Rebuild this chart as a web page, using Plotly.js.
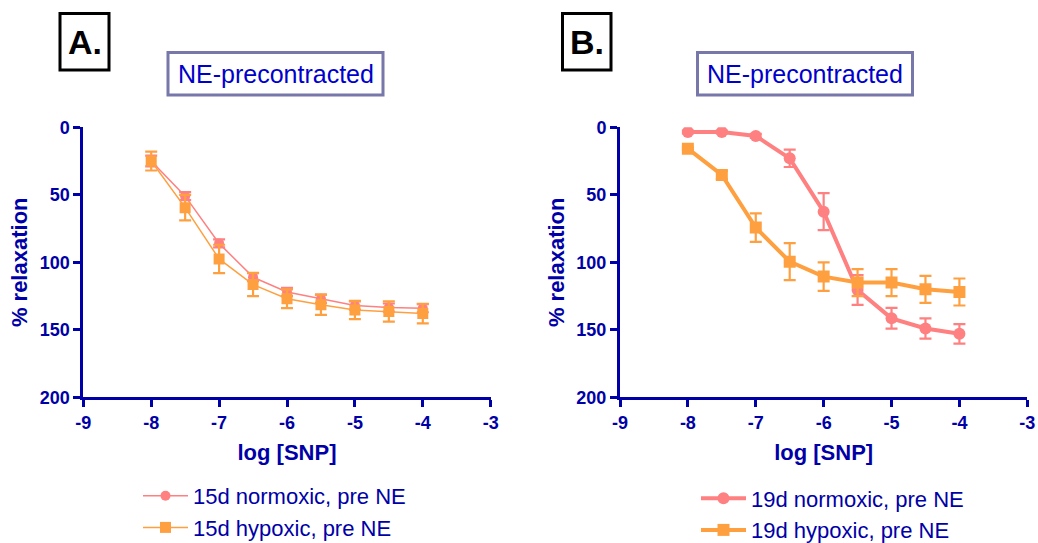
<!DOCTYPE html>
<html>
<head>
<meta charset="utf-8">
<script src="https://cdn.plot.ly/plotly-3.0.1.min.js"></script>
<style>html,body{margin:0;padding:0;background:#fff;overflow:hidden;}#chart{width:1038px;height:543px;overflow:hidden;}</style>
</head>
<body>
<div id="chart"></div>
<script>
// ---- data ----
const logSNP = [-8, -7.5, -7, -6.5, -6, -5.5, -5, -4.5, -4];

const normoxic15 = [25, 51, 86, 111, 122, 127, 132, 133.5, 134];
const normoxic15Err = [4, 3, 3, 3, 3, 3, 3, 3, 3];
const hypoxic15 = [25, 59.5, 97.5, 116.5, 127, 131.5, 135.3, 136.5, 138];
const hypoxic15Err = [7, 9.5, 10.5, 8.6, 7, 7.5, 6.8, 7.5, 7.3];

const normoxic19 = [3.5, 3.5, 6.4, 23, 62.5, 120.5, 141.5, 149, 153];
const normoxic19Err = [1, 1, 1.5, 6.4, 13.7, 11, 7.7, 7.5, 7.2];
const hypoxic19 = [15.8, 35.3, 74.3, 99.5, 110.6, 115, 115, 120, 122];
const hypoxic19Err = [1, 3, 10.5, 13.7, 10.6, 10, 10, 10, 10];

const seriesNames = ['15d normoxic, pre NE', '15d hypoxic, pre NE', '19d normoxic, pre NE', '19d hypoxic, pre NE'];
const xTickVals = [-9, -8, -7, -6, -5, -4, -3];
const xTickText = ['-9', '-8', '-7', '-6', '-5', '-4', '-3'];
const yTickVals = [0, 50, 100, 150, 200];
const panelLabels = ['A.', 'B.'];
const panelTitles = ['NE-precontracted', 'NE-precontracted'];
const xTitle = 'log [SNP]';
const yTitle = '% relaxation';

// ---- styling ----
const W = 1038, H = 543;
const px = x => x / W;
const py = y => 1 - y / H;
const PINK = '#FF8080', ORANGE = '#FFA040', AXIS = '#0000A8', TITLEBLUE = '#0000CC';
const FONT = 'Liberation Sans, Arial, sans-serif';

function trace(y, err, name, color, symbol, xa, ya, lw, ms, legend) {
  return {
    x: logSNP, y: y, name: name, type: 'scatter', mode: 'lines+markers',
    xaxis: xa, yaxis: ya, legend: legend,
    line: {color: color, width: lw},
    marker: {color: color, symbol: symbol, size: ms},
    error_y: {type: 'data', array: err, visible: true, color: color, thickness: 2.2, width: 6}
  };
}

const data = [
  trace(normoxic15, normoxic15Err, seriesNames[0], PINK, 'circle', 'x', 'y', 1.5, 10, 'legend'),
  trace(hypoxic15, hypoxic15Err, seriesNames[1], ORANGE, 'square', 'x', 'y', 1.5, 11, 'legend'),
  trace(normoxic19, normoxic19Err, seriesNames[2], PINK, 'circle', 'x2', 'y2', 4, 12, 'legend2'),
  trace(hypoxic19, hypoxic19Err, seriesNames[3], ORANGE, 'square', 'x2', 'y2', 4, 12, 'legend2')
];

function xaxis(domain, anchor) {
  return {
    domain: domain, anchor: anchor, range: [-9, -3],
    tickvals: xTickVals, ticktext: xTickText,
    showline: true, linecolor: AXIS, linewidth: 3,
    ticks: 'outside', ticklen: 7, tickwidth: 3, tickcolor: AXIS,
    showgrid: false, zeroline: false, automargin: false,
    tickfont: {family: FONT, size: 18, color: AXIS, weight: 'bold'},
    title: {text: '<b>' + xTitle + '</b>', font: {family: FONT, size: 22, color: AXIS}, standoff: 13}
  };
}
function yaxis(domain, anchor) {
  return {
    domain: domain, anchor: anchor, range: [200, 0],
    tickvals: yTickVals,
    showline: true, linecolor: AXIS, linewidth: 3,
    ticks: 'outside', ticklen: 7, tickwidth: 3, tickcolor: AXIS,
    showgrid: false, zeroline: false, automargin: false,
    tickfont: {family: FONT, size: 18, color: AXIS, weight: 'bold'},
    title: {text: '<b>' + yTitle + '</b>', font: {family: FONT, size: 22, color: AXIS}, standoff: 6}
  };
}

const yDom = [py(397.3), py(127.3)];
const domA = [px(83.3), px(490.7)];
const domB = [px(620), px(1027.3)];

const shapes = [
  {type: 'rect', xref: 'paper', yref: 'paper', x0: px(60), x1: px(109), y0: py(70), y1: py(13.5), line: {color: '#000', width: 3}},
  {type: 'rect', xref: 'paper', yref: 'paper', x0: px(562.5), x1: px(611), y0: py(70), y1: py(13.5), line: {color: '#000', width: 3}},
  {type: 'rect', xref: 'paper', yref: 'paper', x0: px(168), x1: px(383), y0: py(95), y1: py(52.5), line: {color: '#7777AA', width: 3}},
  {type: 'rect', xref: 'paper', yref: 'paper', x0: px(697.5), x1: px(912.5), y0: py(95), y1: py(52.5), line: {color: '#7777AA', width: 3}}
];

const annotations = [
  {text: '<b>' + panelLabels[0] + '</b>', xref: 'paper', yref: 'paper', x: px(84.5), y: py(42), xanchor: 'center', yanchor: 'middle', showarrow: false, font: {family: FONT, size: 34, color: '#000'}},
  {text: '<b>' + panelLabels[1] + '</b>', xref: 'paper', yref: 'paper', x: px(587), y: py(42), xanchor: 'center', yanchor: 'middle', showarrow: false, font: {family: FONT, size: 34, color: '#000'}},
  {text: panelTitles[0], xref: 'paper', yref: 'paper', x: px(275.5), y: py(74), xanchor: 'center', yanchor: 'middle', showarrow: false, font: {family: FONT, size: 25, color: TITLEBLUE}},
  {text: panelTitles[1], xref: 'paper', yref: 'paper', x: px(805), y: py(74), xanchor: 'center', yanchor: 'middle', showarrow: false, font: {family: FONT, size: 25, color: TITLEBLUE}}
];

const legendFont = {family: FONT, size: 22, color: AXIS};
const layout = {
  width: W, height: H,
  margin: {l: 0, r: 0, t: 0, b: 0, autoexpand: false},
  paper_bgcolor: '#fff', plot_bgcolor: '#fff',
  showlegend: true,
  xaxis: xaxis(domA, 'y'), yaxis: yaxis(yDom, 'x'),
  xaxis2: xaxis(domB, 'y2'), yaxis2: yaxis(yDom, 'x2'),
  legend: {x: px(138), y: py(475), xanchor: 'left', yanchor: 'top', font: legendFont, bgcolor: 'rgba(0,0,0,0)', itemwidth: 45, tracegroupgap: 0},
  legend2: {x: px(696), y: py(477.5), xanchor: 'left', yanchor: 'top', font: legendFont, bgcolor: 'rgba(0,0,0,0)', itemwidth: 45, tracegroupgap: 0},
  shapes: shapes, annotations: annotations
};

Plotly.newPlot('chart', data, layout, {displayModeBar: false, staticPlot: true});
</script>
</body>
</html>
